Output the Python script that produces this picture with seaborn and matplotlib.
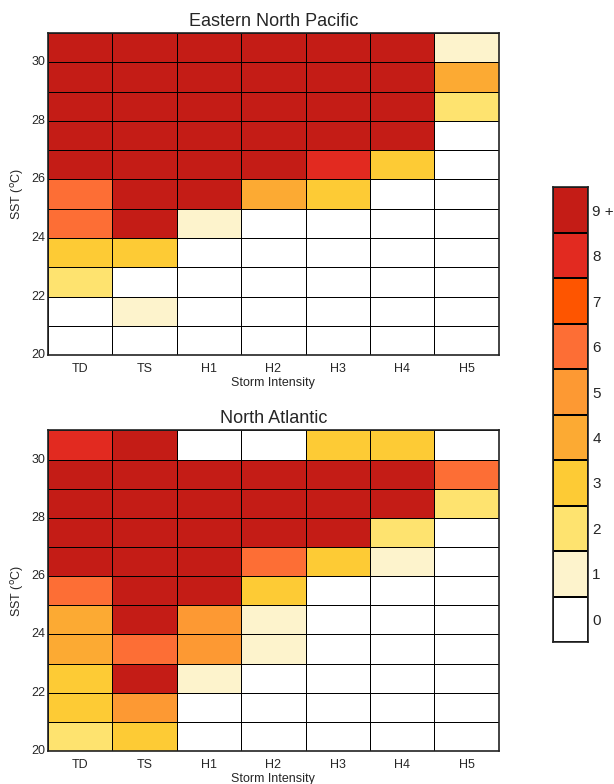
import numpy as np
import pandas as pd
import seaborn as sns
import matplotlib.pyplot as plt
from matplotlib.colors import ListedColormap

sns.set_style("white")
plt.rcParams['font.family'] = ['Liberation Sans', 'DejaVu Sans']

# storm intensity categories and SST bins (top row = 30-31 C)
intensity = ["TD", "TS", "H1", "H2", "H3", "H4", "H5"]
sst_lower = [30, 29, 28, 27, 26, 25, 24, 23, 22, 21, 20]
sst_ticks = [20, 22, 24, 26, 28, 30]

# counts per cell (9 means 9 +)
enp_counts = [
    [9, 9, 9, 9, 9, 9, 1],
    [9, 9, 9, 9, 9, 9, 4],
    [9, 9, 9, 9, 9, 9, 2],
    [9, 9, 9, 9, 9, 9, 0],
    [9, 9, 9, 9, 8, 3, 0],
    [6, 9, 9, 4, 3, 0, 0],
    [6, 9, 1, 0, 0, 0, 0],
    [3, 3, 0, 0, 0, 0, 0],
    [2, 0, 0, 0, 0, 0, 0],
    [0, 1, 0, 0, 0, 0, 0],
    [0, 0, 0, 0, 0, 0, 0],
]
na_counts = [
    [8, 9, 0, 0, 3, 3, 0],
    [9, 9, 9, 9, 9, 9, 6],
    [9, 9, 9, 9, 9, 9, 2],
    [9, 9, 9, 9, 9, 2, 0],
    [9, 9, 9, 6, 3, 1, 0],
    [6, 9, 9, 3, 0, 0, 0],
    [4, 9, 5, 1, 0, 0, 0],
    [4, 6, 5, 1, 0, 0, 0],
    [3, 9, 1, 0, 0, 0, 0],
    [3, 5, 0, 0, 0, 0, 0],
    [2, 3, 0, 0, 0, 0, 0],
]

levels = [9, 8, 7, 6, 5, 4, 3, 2, 1, 0]
level_labels = ["9 +", "8", "7", "6", "5", "4", "3", "2", "1", "0"]
colors = ["#ffffff", "#fdf3cc", "#fee36f", "#fdcb35", "#fcaa33",
          "#fd9933", "#fd6e35", "#fe5500", "#e22a20", "#c41c16"]
cmap = ListedColormap(colors)

fig = plt.figure(figsize=(6.14, 7.84), dpi=100)
ax1 = fig.add_axes([0.078, 0.547, 0.7345, 0.411])
ax2 = fig.add_axes([0.078, 0.042, 0.7345, 0.409])
cax = fig.add_axes([0.9007, 0.181, 0.057, 0.580])


def draw(ax, counts, title):
    df = pd.DataFrame(counts, index=sst_lower, columns=intensity)
    sns.heatmap(df, ax=ax, cmap=cmap, vmin=-0.5, vmax=9.5, cbar=False,
                linewidths=0.6, linecolor="black")
    top = max(sst_lower) + 1
    ax.set_yticks([top - t for t in sst_ticks])
    ax.set_yticklabels([str(t) for t in sst_ticks], rotation=0, fontsize=9)
    ax.set_xticklabels(intensity, rotation=0, fontsize=9)
    ax.tick_params(axis="x", length=0, pad=6)
    ax.tick_params(axis="y", length=0, pad=2)
    ax.set_xlabel("Storm Intensity", fontsize=9, labelpad=1)
    ax.set_ylabel(r"SST ($^{\mathrm{o}}$C)", fontsize=9, labelpad=4)
    ax.set_title(title, fontsize=13, pad=5)
    for s in ax.spines.values():
        s.set_visible(True)
        s.set_color("#222222")
        s.set_linewidth(1.2)


draw(ax1, enp_counts, "Eastern North Pacific")
draw(ax2, na_counts, "North Atlantic")

cb = pd.DataFrame({"v": levels}, index=level_labels)
sns.heatmap(cb, ax=cax, cmap=cmap, vmin=-0.5, vmax=9.5, cbar=False,
            linewidths=1.2, linecolor="black")
cax.yaxis.tick_right()
cax.set_yticklabels(level_labels, rotation=0, fontsize=11)
cax.tick_params(axis="y", length=0, pad=3)
cax.set_xticks([])
cax.set_xlabel("")
for s in cax.spines.values():
    s.set_visible(True)
    s.set_color("#222222")
    s.set_linewidth(1.2)

fig.savefig("out.png", dpi=100)
